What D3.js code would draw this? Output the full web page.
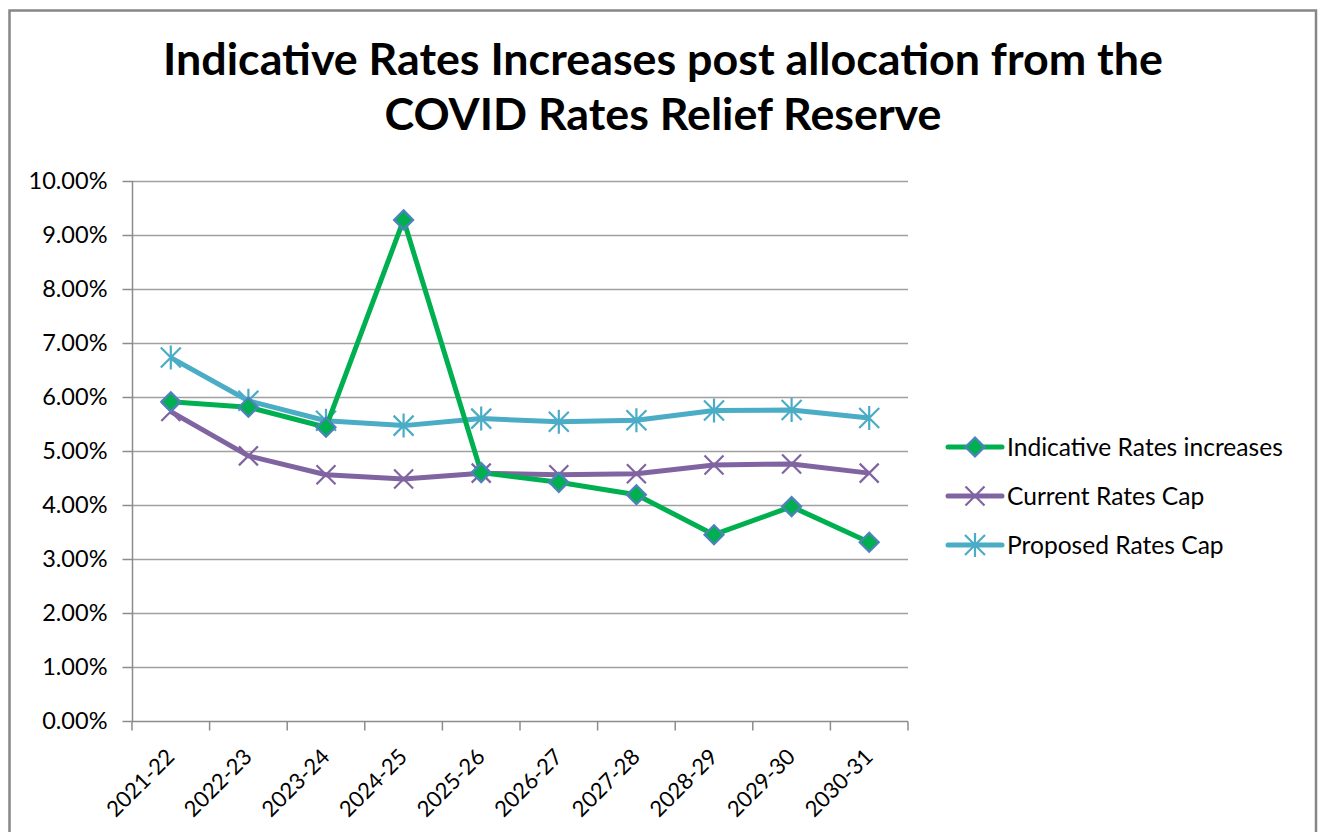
<!DOCTYPE html>
<html><head><meta charset="utf-8">
<script src="https://cdn.jsdelivr.net/npm/d3@7"></script>
<style>body{margin:0;background:#fff;} svg{display:block;}</style>
</head><body>
<script>
const categories = ["2021-22","2022-23","2023-24","2024-25","2025-26","2026-27","2027-28","2028-29","2029-30","2030-31"];
const indicative = [5.91,5.81,5.44,9.28,4.60,4.42,4.19,3.45,3.97,3.31];
const currentCap = [5.73,4.91,4.56,4.48,4.59,4.56,4.58,4.74,4.76,4.59];
const proposedCap = [6.73,5.93,5.56,5.47,5.60,5.54,5.57,5.75,5.76,5.61];
const yTicks = [0,1,2,3,4,5,6,7,8,9,10];
const seriesNames = ["Indicative Rates increases","Current Rates Cap","Proposed Rates Cap"];
const titleLines = ["Indicative Rates Increases post allocation from the","COVID Rates Relief Reserve"];

const W = 1323, H = 832;
const svg = d3.select("body").append("svg").attr("width", W).attr("height", H);
const font = "Lato, 'Open Sans', sans-serif";

// helper: font size so that a sample text has the target width
function fitSize(sample, target, weight) {
  const t = svg.append("text").attr("font-family", font).attr("font-weight", weight || 400)
    .attr("font-size", 100).text(sample);
  const w = t.node().getComputedTextLength();
  t.remove();
  return 100 * target / w;
}
const titleSize = fitSize(titleLines[0], 1000, 700);
const yLabSize = fitSize("10.00%", 79);
const xLabSize = fitSize("2021-22", 85);
const legSize = fitSize(seriesNames[0], 276);

// outer border
svg.append("rect").attr("x", 9.5).attr("y", 10.5).attr("width", 1306.5).attr("height", 840)
  .attr("fill", "#fff").attr("stroke", "#868686").attr("stroke-width", 2.5);

// title
const title = svg.append("g");
titleLines.forEach((t, i) => {
  title.append("text").attr("x", 663).attr("y", 75 + i * 55)
    .attr("text-anchor", "middle").attr("font-family", font).attr("font-weight", 700)
    .attr("font-size", titleSize).attr("fill", "#000").text(t);
});

const x = d3.scaleBand().domain(categories).range([132, 908]);
const y = d3.scaleLinear().domain([0, 10]).range([721, 181]);

// gridlines
svg.append("g").selectAll("line").data(yTicks.slice(1)).join("line")
  .attr("x1", 132).attr("x2", 908).attr("y1", d => y(d) + 0.5).attr("y2", d => y(d) + 0.5)
  .attr("stroke", "#a0a0a0").attr("stroke-width", 1.5);

// y axis
const yAxis = svg.append("g").attr("transform", "translate(132.5,0)")
  .call(d3.axisLeft(y).tickValues(yTicks).tickSize(10).tickPadding(15).tickFormat(d => d.toFixed(2) + "%"));
yAxis.select(".domain").attr("stroke", "#8c8c8c").attr("stroke-width", 1.5).attr("d", `M0,${181}V${721}`);
yAxis.selectAll(".tick line").attr("stroke", "#8c8c8c").attr("stroke-width", 1.5);
yAxis.selectAll(".tick text").attr("font-family", font).attr("font-size", yLabSize).attr("fill", "#000");

// x axis
const xAxis = svg.append("g").attr("transform", "translate(0,721.5)");
xAxis.append("line").attr("x1", 132).attr("x2", 908).attr("stroke", "#8c8c8c").attr("stroke-width", 1.5);
const edges = categories.map(c => x(c)).concat([x.range()[1]]);
xAxis.selectAll("line.tk").data(edges).join("line").attr("class", "tk")
  .attr("x1", d => d).attr("x2", d => d).attr("y1", 0).attr("y2", 9)
  .attr("stroke", "#8c8c8c").attr("stroke-width", 1.5);
const capH = 0.72 * xLabSize;
xAxis.selectAll("text").data(categories).join("text")
  .attr("transform", d => `translate(${x(d) + x.bandwidth() / 2 + 5},${747 - 721.5 + 0.707 * capH}) rotate(-45)`)
  .attr("text-anchor", "end")
  .attr("font-family", font).attr("font-size", xLabSize).attr("fill", "#000").text(d => d);

const cx = d => x(d) + x.bandwidth() / 2;
const colors = ["#00B050", "#8064A2", "#4BACC6"];
const data = [indicative, currentCap, proposedCap];
const line = d3.line().x((d, i) => cx(categories[i])).y(d => y(d));

function drawMarker(g, type, px, py) {
  if (type === 0) {
    const s = 9.5;
    g.append("path").attr("d", `M${px},${py - s}L${px + s},${py}L${px},${py + s}L${px - s},${py}Z`)
      .attr("fill", "#00B050").attr("stroke", "#4F81BD").attr("stroke-width", 2.2);
  } else if (type === 1) {
    const s = 9.5;
    g.append("path").attr("d", `M${px - s},${py - s}L${px + s},${py + s}M${px - s},${py + s}L${px + s},${py - s}`)
      .attr("stroke", "#8064A2").attr("stroke-width", 2.2).attr("fill", "none");
  } else {
    const s = 10;
    g.append("path").attr("d", `M${px - s},${py - s}L${px + s},${py + s}M${px - s},${py + s}L${px + s},${py - s}M${px},${py - s - 2}L${px},${py + s + 2}`)
      .attr("stroke", "#4BACC6").attr("stroke-width", 2.2).attr("fill", "none");
  }
}

const order = [2, 1, 0];
order.forEach(si => {
  const g = svg.append("g");
  g.append("path").datum(data[si]).attr("d", line).attr("fill", "none")
    .attr("stroke", colors[si]).attr("stroke-width", 5).attr("stroke-linejoin", "round");
  data[si].forEach((v, i) => drawMarker(g, si, cx(categories[i]), y(v)));
});

// legend
const legend = svg.append("g");
seriesNames.forEach((n, i) => {
  const ly = 447 + i * 49;
  const g = legend.append("g");
  g.append("line").attr("x1", 948).attr("x2", 1002).attr("y1", ly).attr("y2", ly)
    .attr("stroke", colors[i]).attr("stroke-width", 5).attr("stroke-linecap", "round");
  drawMarker(g, i, 975, ly);
  g.append("text").attr("x", 1007).attr("y", ly).attr("dy", "0.35em")
    .attr("font-family", font).attr("font-size", legSize).attr("fill", "#000").text(n);
});
</script>
</body></html>
